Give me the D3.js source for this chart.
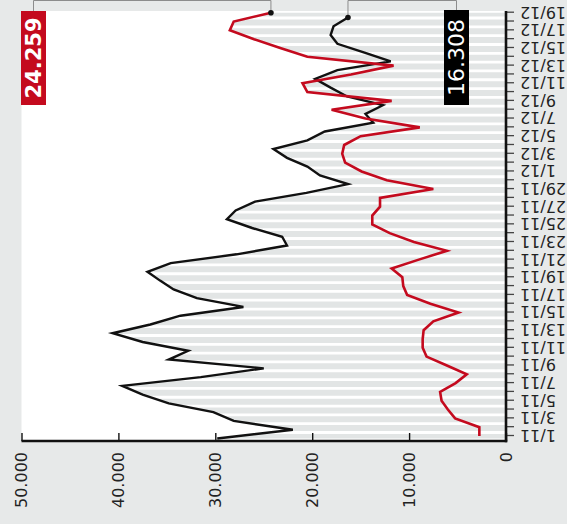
<!DOCTYPE html>
<html>
<head>
<meta charset="utf-8">
<script src="https://cdn.jsdelivr.net/npm/d3@7"></script>
<style>
  html, body { margin: 0; padding: 0; background: #e7e9e9; }
  svg { display: block; font-family: "DejaVu Sans", Verdana, sans-serif; }
</style>
</head>
<body>
<svg id="chart" width="567" height="524"></svg>
<script>
// Daily dates, 1 November to 19 December
const dates = [
  "1/11","2/11","3/11","4/11","5/11","6/11","7/11","8/11","9/11","10/11",
  "11/11","12/11","13/11","14/11","15/11","16/11","17/11","18/11","19/11","20/11",
  "21/11","22/11","23/11","24/11","25/11","26/11","27/11","28/11","29/11","30/11",
  "1/12","2/12","3/12","4/12","5/12","6/12","7/12","8/12","9/12","10/12",
  "11/12","12/12","13/12","14/12","15/12","16/12","17/12","18/12","19/12"
];

// Red series (rising)
const redValues = [
  2750, 2750, 5250, 6000, 6650, 6800, 5200, 4050, 6100, 8200,
  8600, 8600, 8500, 7500, 4900, 7800, 10200, 10600, 10700, 11800,
  9000, 6100, 9500, 12000, 13800, 13800, 13000, 13000, 7500, 12300,
  14900, 16600, 16900, 16700, 15000, 8900, 14500, 18000, 11800, 20500,
  21000, 16000, 11600, 20500, 23300, 26000, 28500, 28100, 24259
];

// Black series (falling)
const blackValues = [
  29800, 22000, 28100, 30200, 34800, 37500, 39600, 31500, 25000, 34800,
  32800, 37500, 40600, 36700, 33600, 27100, 31900, 34300, 35700, 37000,
  34600, 27800, 22600, 23100, 26200, 28800, 27900, 25900, 20600, 16300,
  19200, 20500, 22600, 24000, 20500, 18700, 13700, 14500, 12700, 16400,
  18100, 19700, 17400, 11900, 14600, 17400, 18100, 17800, 16308
];

const valueTicks = [0, 10000, 20000, 30000, 40000, 50000];
const redLabel = "24.259";
const blackLabel = "16.308";

// Number format with "." as thousands separator
const fmt = d3.formatLocale({ decimal: ",", thousands: ".", grouping: [3], currency: ["", " €"] }).format(",");

const svg = d3.select("#chart");
svg.append("rect").attr("width", 567).attr("height", 524).attr("fill", "#e7e9e9");

// The chart is laid out as a regular time chart (dates along x, values along y)
// and then turned a quarter turn counter-clockwise.
const g = svg.append("g").attr("transform", "translate(0,524) rotate(-90)");

const axisPos = 83, plotRight = 513;
const y = d3.scaleLinear().domain([0, 50000]).range([506, 21.5]);
const xRed = d3.scalePoint().domain(dates).range([88, 511.3]);
const xBlack = d3.scalePoint().domain(dates).range([85.5, 506.5]);

// Plot background
g.append("rect")
  .attr("x", axisPos).attr("y", y(50000))
  .attr("width", plotRight - axisPos).attr("height", y(0) - y(50000))
  .attr("fill", "#ffffff");

// Striped fill under the higher of the two lines
const areaRed = d3.area().x((d, i) => xRed(dates[i])).y0(y(0)).y1(d => y(d));
const areaBlack = d3.area().x((d, i) => xBlack(dates[i])).y0(y(0)).y1(d => y(d));
const clip = svg.append("defs").append("clipPath").attr("id", "under");
clip.append("path").attr("d", areaRed(redValues));
clip.append("path").attr("d", areaBlack(blackValues));

const stripes = g.append("g").attr("clip-path", "url(#under)");
stripes.append("rect")
  .attr("x", axisPos).attr("y", y(50000))
  .attr("width", plotRight - axisPos).attr("height", y(0) - y(50000))
  .attr("fill", "#e2e5e5");
stripes.selectAll("line.stripe")
  .data(dates)
  .join("line")
  .attr("class", "stripe")
  .attr("x1", d => xRed(d) + 3.5).attr("x2", d => xRed(d) + 3.5)
  .attr("y1", y(50000)).attr("y2", y(0))
  .attr("stroke", "#ffffff").attr("stroke-width", 2.8);

// Value axis
const yAxis = d3.axisLeft(y).tickValues(valueTicks).tickFormat(fmt)
  .tickSizeInner(-8).tickSizeOuter(0).tickPadding(11);
const yg = g.append("g").attr("transform", `translate(${axisPos},0)`).call(yAxis);
yg.select(".domain").remove();
yg.selectAll(".tick line").attr("stroke", "#111").attr("stroke-width", 1.4);
yg.selectAll(".tick text").attr("font-size", 16).attr("fill", "#222")
  .attr("font-family", "DejaVu Sans, Verdana, sans-serif");

// Date axis
const xAxis = d3.axisBottom(xRed).tickValues(dates)
  .tickFormat((d, i) => (i % 2 === 0 ? d : ""))
  .tickSizeInner(8).tickSizeOuter(0);
const xg = g.append("g").attr("transform", `translate(0,${y(0)})`).call(xAxis);
xg.select(".domain").remove();
xg.selectAll(".tick line").attr("stroke", "#444").attr("stroke-width", 1.3);
xg.selectAll(".tick text")
  .attr("transform", "rotate(-90)")
  .attr("x", -14).attr("y", 0).attr("dy", "0.35em")
  .style("text-anchor", "end")
  .attr("font-size", 16).attr("fill", "#222")
  .attr("font-family", "DejaVu Sans, Verdana, sans-serif");

// Lines
const lineRed = d3.line().x((d, i) => xRed(dates[i])).y(d => y(d));
const lineBlack = d3.line().x((d, i) => xBlack(dates[i])).y(d => y(d));

g.append("path").attr("d", lineBlack(blackValues))
  .attr("fill", "none").attr("stroke", "#111").attr("stroke-width", 2.4)
  .attr("stroke-linejoin", "miter");
g.append("path").attr("d", lineRed(redValues))
  .attr("fill", "none").attr("stroke", "#c40a1e").attr("stroke-width", 2.6)
  .attr("stroke-linejoin", "miter");

// Axis lines
g.append("line").attr("x1", axisPos).attr("x2", axisPos)
  .attr("y1", y(50000)).attr("y2", y(0) + 1.2)
  .attr("stroke", "#111").attr("stroke-width", 2.6);
g.append("line").attr("x1", axisPos - 1.2).attr("x2", plotRight)
  .attr("y1", y(0)).attr("y2", y(0))
  .attr("stroke", "#111").attr("stroke-width", 2.6);

// End-value callouts
const last = dates.length - 1;
const redEnd = [xRed(dates[last]), y(redValues[last])];
const blackEnd = [xBlack(dates[last]), y(blackValues[last])];
const leaderX = 523.5;
const redBox = { x: 419, y: 21, w: 94, h: 25 };
const blackBox = { x: 419, y: 444, w: 95, h: 25 };

const leader = d3.line();
g.append("path")
  .attr("d", leader([redEnd, [leaderX, redEnd[1]], [leaderX, redBox.y + redBox.h / 2], [redBox.x + redBox.w, redBox.y + redBox.h / 2]]))
  .attr("fill", "none").attr("stroke", "#8c8c8c").attr("stroke-width", 1);
g.append("path")
  .attr("d", leader([blackEnd, [leaderX, blackEnd[1]], [leaderX, blackBox.y + blackBox.h / 2], [blackBox.x + blackBox.w, blackBox.y + blackBox.h / 2]]))
  .attr("fill", "none").attr("stroke", "#8c8c8c").attr("stroke-width", 1);

g.append("circle").attr("cx", redEnd[0]).attr("cy", redEnd[1]).attr("r", 2.8).attr("fill", "#111");
g.append("circle").attr("cx", blackEnd[0]).attr("cy", blackEnd[1]).attr("r", 2.8).attr("fill", "#111");

g.append("rect").attr("x", redBox.x).attr("y", redBox.y).attr("width", redBox.w).attr("height", redBox.h)
  .attr("fill", "#c40a1e");
g.append("text").attr("x", redBox.x + redBox.w / 2).attr("y", redBox.y + redBox.h / 2)
  .attr("dy", "0.36em").attr("text-anchor", "middle")
  .attr("fill", "#fff").attr("font-size", 21).attr("font-weight", "bold")
  .text(redLabel);

g.append("rect").attr("x", blackBox.x).attr("y", blackBox.y).attr("width", blackBox.w).attr("height", blackBox.h)
  .attr("fill", "#000");
g.append("text").attr("x", blackBox.x + blackBox.w / 2).attr("y", blackBox.y + blackBox.h / 2)
  .attr("dy", "0.36em").attr("text-anchor", "middle")
  .attr("fill", "#fff").attr("font-size", 22)
  .text(blackLabel);
</script>
</body>
</html>
